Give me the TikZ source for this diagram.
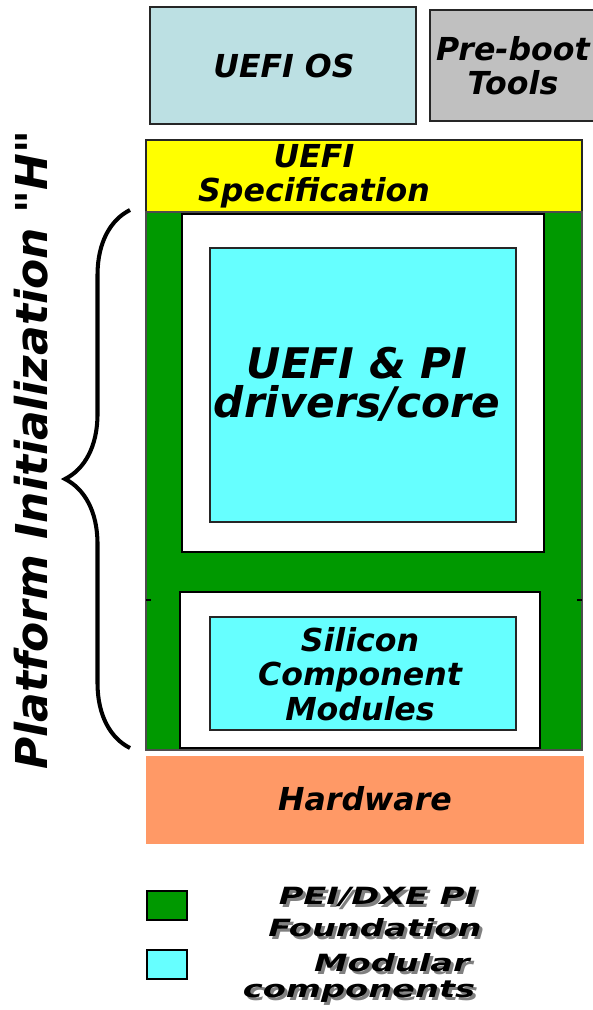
\documentclass[tikz,border=0pt]{standalone}
\usepackage{fontspec}
\newfontfamily\verdfont{DejaVu Sans}
\usetikzlibrary{positioning,decorations.pathreplacing}

\definecolor{osblue}{RGB}{188,224,227}
\definecolor{toolgray}{RGB}{192,192,192}
\definecolor{specyellow}{RGB}{255,255,0}
\definecolor{pigreen}{RGB}{0,153,0}
\definecolor{modcyan}{RGB}{102,255,255}
\definecolor{hwpeach}{RGB}{255,153,102}

\newcommand{\wide}[1]{\scalebox{1.42}[1]{#1}}

\tikzset{
    layer/.style={draw=black!85, line width=1.2pt},
    label/.style={align=center, inner sep=0pt, font=\verdfont\bfseries\itshape\fontsize{18}{19.5}\selectfont},
    biglabel/.style={label, font=\verdfont\bfseries\itshape\fontsize{24}{22}\selectfont},
    titlelabel/.style={label, font=\verdfont\bfseries\itshape\fontsize{25}{25}\selectfont},
    leglabel/.style={label, font=\verdfont\bfseries\itshape\fontsize{13.5}{16}\selectfont},
    shadow/.style={leglabel, text=black!50}
}

\begin{document}
\begin{tikzpicture}[x={(0.02cm,0)}, y={(0,-0.02cm)}]

    \useasboundingbox (0,0) rectangle (592,1010);

    % top row
    \path[layer, fill=osblue] (150,7) rectangle (416,124);
    \path[layer, fill=toolgray] (430,10) rectangle (600,121);
    \node[label] (os) at (284,66) {UEFI OS};
    \node[label] (tools) at (513,66) {Pre-boot\\Tools};

    % specification
    \path[layer, fill=specyellow] (146,140) rectangle (582,212);
    \node[label] (spec) at (314,176) {UEFI\\Specification};

    % the "H"
    \path[draw=black!70, line width=0.8pt, fill=pigreen] (146,212) rectangle (582,750);
    \path[draw, line width=1.6pt, fill=white] (182,214) rectangle (544,552);
    \path[layer, fill=modcyan] (210,248) rectangle (516,522);
    \path[draw, line width=1.6pt, fill=white] (180,592) rectangle (540,748);
    \path[layer, fill=modcyan] (210,617) rectangle (516,730);
    \draw[line width=1.5pt] (146,600) -- (151,600);
    \draw[line width=1.5pt] (577,600) -- (582,600);
    \node[biglabel] (core) at (357,384) {UEFI \& PI\\drivers/core};
    \node[label] (scm) at (360,674) {Silicon\\Component\\Modules};

    % hardware
    \path[fill=hwpeach] (146,756) rectangle (584,844);
    \node[label] (hw) at (365,799) {Hardware};

    % brace and side title
    \coordinate (brace top) at (130,210);
    \coordinate (brace bottom) at (130,748);
    \draw[line width=2.3pt, decorate, decoration={brace, amplitude=1.3cm}] (brace bottom) -- (brace top);
    \node[titlelabel, rotate=90] (title) at (31,450) {Platform Initialization "H"};

    % legend
    \path[draw, line width=1.6pt, fill=pigreen] (147,891) rectangle (187,920);
    \path[draw, line width=1.6pt, fill=modcyan] (147,950) rectangle (187,979);
    \node[shadow] (pei shadow) at (381,900) {\wide{PEI/DXE PI}};
    \node[leglabel] (pei) at (378,897) {\wide{PEI/DXE PI}};
    \node[shadow] (found shadow) at (378,931) {\wide{Foundation}};
    \node[leglabel] (found) at (375,928) {\wide{Foundation}};
    \node[shadow] (mod shadow) at (395,966) {\wide{Modular}};
    \node[leglabel] (mod) at (392,963) {\wide{Modular}};
    \node[shadow] (comp shadow) at (362,995) {\wide{components}};
    \node[leglabel] (comp) at (359,992) {\wide{components}};

\end{tikzpicture}
\end{document}
